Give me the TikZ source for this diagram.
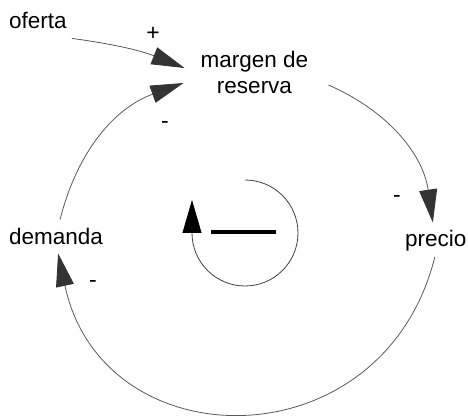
\documentclass[tikz,border=0pt]{standalone}
\usepackage{fontspec}
\setmainfont{Liberation Sans}
\usetikzlibrary{arrows.meta}
\begin{document}
\begin{tikzpicture}[x=1pt,y=1pt,
  var/.style={inner sep=0pt, font=\fontsize{22.5}{26}\selectfont, align=center},
  pol/.style={inner sep=0pt, font=\fontsize{23}{26}\selectfont, anchor=base},
  link/.style={draw=black!65, line width=0.8pt,
    -{Triangle[length=33pt,width=18pt,color=black!80]}},
  loopline/.style={draw=black!75, line width=0.8pt,
    -{Triangle[length=33pt,width=19pt,color=black]}},
  bar/.style={line width=4pt, black}
]
\useasboundingbox (0,0) rectangle (468,415);

% variables
\node[var, anchor=base west] (oferta)  at (9,386)  {oferta};
\node[var, anchor=north]     (margen)  at (254.5,364) {margen de\\reserva};
\node[var, anchor=base west] (demanda) at (9,170)  {demanda};
\node[var, anchor=base west] (precio)  at (405,168) {precio};

% causal links
\draw[link] ([shift={(5,-9)}]oferta.south east)
  to[bend left=7] ([shift={(-16,-17)}]margen.north west);
\draw[link] ([shift={(4,9)}]demanda.north)
  to[bend left=28] ([shift={(-17,-32)}]margen.north west);
\draw[link] ([shift={(20,-34)}]margen.north east)
  to[bend left=29] ([shift={(-3,8)}]precio.north);
\draw[link] ([shift={(-1,-5)}]precio.south)
  to[out=256, in=282, looseness=1.45] ([shift={(2,-8)}]demanda.south);

% link polarities
\node[pol] (polA) at (153,374) {+};
\node[pol] (polB) at (165,286) {-};
\node[pol] (polC) at (397,212) {-};
\node[pol] (polD) at (93,128)  {-};

% balancing loop marker
\coordinate (loopc) at (245,182);
\draw[loopline] ([yshift=53]loopc) arc[start angle=90, end angle=-180, radius=53]
  -- ++(0,33);
\draw[bar] ([shift={(-34,1)}]loopc) -- ([shift={(31,1)}]loopc);
\end{tikzpicture}
\end{document}
